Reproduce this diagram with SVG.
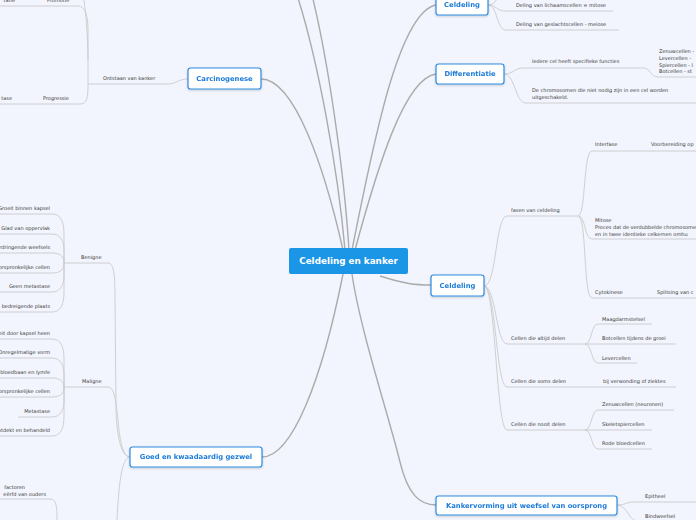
<svg xmlns="http://www.w3.org/2000/svg" width="696" height="520" viewBox="0 0 696 520">
<defs>
<filter id="sh" x="-10%" y="-20%" width="120%" height="150%"><feDropShadow dx="0" dy="1" stdDeviation="0.8" flood-color="#000" flood-opacity="0.18"/></filter>
<style>
.topic rect{fill:#fff;stroke:#2f8be2;stroke-width:1.2}
.topic text{font-family:"DejaVu Sans",Verdana,sans-serif;font-weight:bold;font-size:6.8px;fill:#1c7bd8;text-anchor:middle}
.leaf text,text.leaf{font-family:"DejaVu Sans",Verdana,sans-serif;font-size:5px;fill:#3a3a3a}
.main path{fill:none;stroke:#ababab;stroke-width:1.4}
.sub path{fill:none;stroke:#cbcbcb;stroke-width:0.9}
.end{text-anchor:end}
</style>
</defs>
<rect width="696" height="520" fill="#f2f5fd"/>

<g id="connectors">
<g class="main">
<path d="M345,250 C338,170 318,60 297,-5"/>
<path d="M349,250 C344,170 328,60 312,-5"/>
<path d="M261,79 C295,79 325,170 343,250"/>
<path d="M352,250 C372,150 398,12 436,5"/>
<path d="M355,250 C378,165 405,78 436,74"/>
<path d="M380,276 C405,284 415,285 431,285"/>
<path d="M343,274 C322,380 292,457 262,457"/>
<path d="M352,274 C360,330 390,420 400,462 C408,495 420,505 436,505"/>
</g>
<g class="sub">
<!-- top Celdeling -->
<path d="M488,5 C496,5 497,11 505,11 H613"/>
<path d="M488,5 C498,5 496,30 506,30 H619"/>
<path d="M488,5 C494,5 497,0 499,-6"/>
<!-- Differentiatie -->
<path d="M504,74 C514,74 514,68 523,68 H643 C651,68 650,77 658,77 H696"/>
<path d="M504,74 C515,74 515,103 526,103 H696"/>
<!-- Carcinogenese -->
<path d="M188,79 C178,79 176,84 168,84 H88"/>
<path d="M0,6 H78 C85,6 88,15 88,30 L88,84"/>
<path d="M83,-5 C86,10 88,40 88,60"/>
<path d="M88,84 C88,98 87,104 80,104 H0"/>
<!-- Goed en kwaadaardig -->
<path d="M108,263 C114,263 115,275 115,300 L116,410 C117,440 122,457 130,457"/>
<path d="M108,387 C114,387 116,400 118,420 C120,445 124,457 130,457"/>
<path d="M130,457 C122,458 119,480 117,520"/>
<path d="M64,263 H108"/>
<path d="M0,214 H52 C61,214 64,222 64,234 L64,263"/>
<path d="M0,234 H52 C61,234 64,242 64,250 L64,263"/>
<path d="M0,253 H52 C61,253 64,257 64,263"/>
<path d="M0,273 H52 C61,273 64,269 64,263"/>
<path d="M0,292 H52 C61,292 64,284 64,276 L64,263"/>
<path d="M0,312 H52 C61,312 64,304 64,292 L64,263"/>
<path d="M64,387 H108"/>
<path d="M0,339 H52 C61,339 64,347 64,359 L64,387"/>
<path d="M0,358 H52 C61,358 64,366 64,374 L64,387"/>
<path d="M0,378 H52 C61,378 64,382 64,387"/>
<path d="M0,397 H52 C61,397 64,393 64,387"/>
<path d="M18,417 H52 C61,417 64,409 64,401 L64,387"/>
<path d="M0,436 H52 C61,436 64,428 64,416 L64,387"/>
<path d="M0,499 H50 C56,499 57,505 57,520"/>
<!-- right Celdeling -->
<path d="M484,286 C497,286 495,216 507,216 H578"/>
<path d="M578,216 C586,216 583,151 592,151 H696"/>
<path d="M578,216 C586,216 584,239 592,239 H696"/>
<path d="M578,216 C587,216 583,298 592,298 H696"/>
<path d="M484,286 C496,286 496,344 507,344 H676"/>
<path d="M585,344 C592,344 591,324 598,324 H652"/>
<path d="M585,344 C592,344 591,363 598,363 H637"/>
<path d="M484,286 C496,286 496,387 507,387 H676"/>
<path d="M484,286 C496,286 496,430 507,430 H652"/>
<path d="M585,430 C592,430 591,410 598,410 H674"/>
<path d="M585,430 C592,430 591,449 598,449 H652"/>
<!-- Kankervorming -->
<path d="M617,505 C626,505 626,502 634,502 H696"/>
<path d="M617,505 C628,505 628,522 640,522"/>
</g>
</g>

<g id="center">
<rect x="289" y="248" width="119" height="26" rx="2" fill="#1b96e6"/>
<text x="348.5" y="264.2" font-family="DejaVu Sans,Verdana,sans-serif" font-weight="bold" font-size="8.8" fill="#fff" text-anchor="middle">Celdeling en kanker</text>
</g>

<g id="node-celdeling-top" class="topic" filter="url(#sh)"><rect x="436" y="-6" width="52" height="21" rx="2.5"/><text x="462" y="7.4">Celdeling</text></g>
<g id="node-differentiatie" class="topic" filter="url(#sh)"><rect x="436" y="64" width="68" height="20" rx="2.5"/><text x="470" y="76.4">Differentiatie</text></g>
<g id="node-carcinogenese" class="topic" filter="url(#sh)"><rect x="188" y="68" width="73" height="21" rx="2.5"/><text x="224.5" y="80.9">Carcinogenese</text></g>
<g id="node-celdeling" class="topic" filter="url(#sh)"><rect x="431" y="275" width="53" height="21" rx="2.5"/><text x="457.5" y="287.9">Celdeling</text></g>
<g id="node-gezwel" class="topic" filter="url(#sh)"><rect x="130" y="447" width="132" height="20" rx="2.5"/><text x="196" y="459.4">Goed en kwaadaardig gezwel</text></g>
<g id="node-kankervorming" class="topic" filter="url(#sh)"><rect x="436" y="496" width="181" height="19" rx="2.5"/><text x="526.5" y="507.9">Kankervorming uit weefsel van oorsprong</text></g>

<g id="leaves-celdeling-top" class="leaf">
<text x="516" y="7">Deling van lichaamscellen = mitose</text>
<text x="516" y="26">Deling van geslachtscellen - meiose</text>
</g>
<g id="leaves-differentiatie" class="leaf">
<text x="532" y="63">Iedere cel heeft specifieke functies</text>
<text x="659" y="53">Zenuwcellen - </text>
<text x="659" y="60">Levercellen - </text>
<text x="659" y="66.5">Spiercellen - l</text>
<text x="659" y="73">Botcellen - st</text>
<text x="532" y="92">De chromosomen die niet nodig zijn in een cel worden</text>
<text x="532" y="99">uitgeschakeld.</text>
</g>
<g id="leaves-carcinogenese" class="leaf">
<text x="103" y="80">Ontstaan van kanker</text>
<text x="47" y="1.5">Promotie</text>
<text x="15" y="1.5" class="end">tatie</text>
<text x="43" y="100">Progressie</text>
<text x="12" y="100" class="end">tase</text>
</g>
<g id="leaves-benigne" class="leaf">
<text x="81" y="259">Benigne</text>
<text x="50" y="210" class="end">Groeit binnen kapsel</text>
<text x="50" y="230" class="end">Glad van oppervlak</text>
<text x="50" y="249" class="end">Verdringende weefsels</text>
<text x="50" y="269" class="end">Lijkt op oorspronkelijke cellen</text>
<text x="50" y="288" class="end">Geen metastase</text>
<text x="50" y="308" class="end">Op bedreigende plaats</text>
</g>
<g id="leaves-maligne" class="leaf">
<text x="82" y="383">Maligne</text>
<text x="50" y="335" class="end">Groeit door kapsel heen</text>
<text x="50" y="354" class="end">Onregelmatige vorm</text>
<text x="50" y="374" class="end">Via bloedbaan en lymfe</text>
<text x="50" y="393" class="end">Lijkt niet op oorspronkelijke cellen</text>
<text x="50" y="413" class="end">Metastase</text>
<text x="50" y="432" class="end">Laat ontdekt en behandeld</text>
</g>
<g id="leaves-erfelijk" class="leaf">
<text x="25" y="489" class="end">factoren</text>
<text x="46" y="495.5" class="end">eërfd van ouders</text>
</g>
<g id="leaves-celdeling" class="leaf">
<text x="511" y="212">fasen van celdeling</text>
<text x="595" y="146">Interfase</text>
<text x="651" y="146">Voorbereiding op</text>
<text x="595" y="222">Mitose</text>
<text x="595" y="229">Proces dat de verdubbelde chromosomen</text>
<text x="595" y="235.5">en in twee identieke celkernen omhu</text>
<text x="595" y="294">Cytokinese</text>
<text x="657" y="294">Splitsing van c</text>
<text x="511" y="340">Cellen die altijd delen</text>
<text x="602" y="321">Maagdarmstelsel</text>
<text x="602" y="340">Botcellen tijdens de groei</text>
<text x="602" y="360">Levercellen</text>
<text x="511" y="383">Cellen die soms delen</text>
<text x="603" y="383">bij verwonding of ziektes</text>
<text x="511" y="426">Cellen die nooit delen</text>
<text x="602" y="406">Zenuwcellen (neuronen)</text>
<text x="602" y="426">Skeletspiercellen</text>
<text x="602" y="445">Rode bloedcellen</text>
</g>
<g id="leaves-kankervorming" class="leaf">
<text x="645" y="498">Epitheel</text>
<text x="645" y="518">Bindweefsel</text>
</g>
</svg>
